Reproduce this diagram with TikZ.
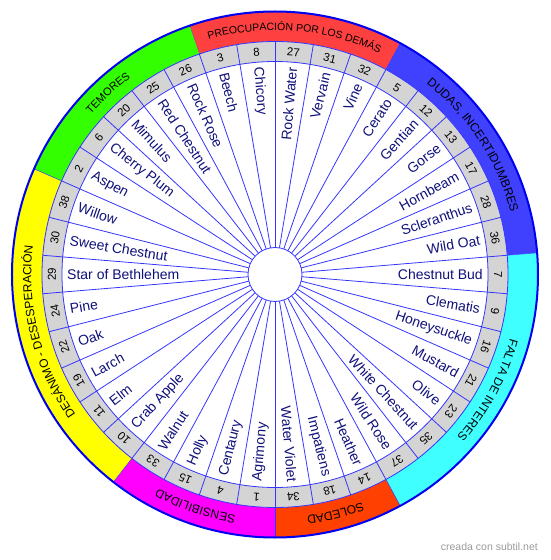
\documentclass[tikz,border=0pt]{standalone}
\usepackage{fontspec}
\setmainfont{Liberation Sans}
\usepackage{xcolor}
\usetikzlibrary{decorations.text}

\definecolor{catred}{HTML}{FF4040}
\definecolor{catblue}{HTML}{4040FF}
\definecolor{catcyan}{HTML}{40FFFF}
\definecolor{catorange}{HTML}{FF4000}
\definecolor{catmagenta}{HTML}{FF00FF}
\definecolor{catyellow}{HTML}{FFFF00}
\definecolor{catgreen}{HTML}{33FF00}
\definecolor{numgray}{HTML}{D4D4D4}
\definecolor{spokeblue}{HTML}{3535FF}
\definecolor{rimblue}{HTML}{0000F0}
\definecolor{remnavy}{HTML}{10107A}
\definecolor{creditgray}{HTML}{9A9A9A}

\tikzset{
  spoke/.style={draw=spokeblue, line width=0.8pt},
  remedy/.style={text=remnavy, font=\fontsize{14}{16}\selectfont, inner sep=0pt},
  numlabel/.style={font=\fontsize{11.5}{13}\selectfont, inner sep=0pt},
}
\newcommand{\catfont}{\fontsize{12}{13}\selectfont}
\newcommand{\catfontsmall}{\fontsize{10.5}{12}\selectfont}

\begin{document}
\begin{tikzpicture}[x=1pt, y=1pt]
  \useasboundingbox (-275,-285.5) rectangle (275,274.5);
  \pgfmathsetmacro{\st}{360/38}

  % category ring
  \foreach \a/\b/\c in {36/41/catred, 3/9/catblue, 9/16/catcyan, 16/19/catorange, 19/23/catmagenta, 23/31/catyellow, 31/36/catgreen} {
    \fill[\c] ({90-\a*\st}:233) -- ({90-\a*\st}:263)
      arc[start angle={90-\a*\st}, end angle={90-\b*\st}, radius=263]
      -- ({90-\b*\st}:233)
      arc[start angle={90-\b*\st}, end angle={90-\a*\st}, radius=233] -- cycle;
    \draw[spokeblue, line width=0.5pt] ({90-\a*\st}:233) -- ({90-\a*\st}:263);
  }

  % category names
  \path[decorate, decoration={text along path, text align=center, text={|\catfontsmall|PREOCUPACIÓN POR LOS DEMÁS}}]
    ({90-36*\st}:244.3) arc[start angle={90-36*\st}, end angle={90-41*\st}, radius=244.3];
  \path[decorate, decoration={text along path, text align=center, text={|\catfont|DUDAS, INCERTIDUMBRES}}]
    ({90-3*\st}:243.7) arc[start angle={90-3*\st}, end angle={90-9*\st}, radius=243.7];
  \path[decorate, decoration={text along path, text align=center, text={|\catfont|FALTA DE INTERES}}]
    ({90-9*\st}:243.7) arc[start angle={90-9*\st}, end angle={90-16*\st}, radius=243.7];
  \path[decorate, decoration={text along path, text align=center, text={|\catfont|SOLEDAD}}]
    ({90-16*\st}:243.7) arc[start angle={90-16*\st}, end angle={90-19*\st}, radius=243.7];
  \path[decorate, decoration={text along path, text align=center, text={|\catfont|SENSIBILIDAD}}]
    ({90-19*\st}:243.7) arc[start angle={90-19*\st}, end angle={90-23*\st}, radius=243.7];
  \path[decorate, decoration={text along path, text align=center, text={|\catfont|DESÁNIMO - DESESPERACIÓN}}]
    ({90-23*\st}:243.7) arc[start angle={90-23*\st}, end angle={90-31*\st}, radius=243.7];
  \path[decorate, decoration={text along path, text align=center, text={|\fontsize{11}{12}\selectfont|TEMORES}}]
    ({90-31*\st}:244) arc[start angle={90-31*\st}, end angle={90-36*\st}, radius=244];

  % number ring and spokes
  \fill[numgray, even odd rule] (0,0) circle (233) (0,0) circle (213);
  \draw[spoke] (0,0) circle (213);
  \draw[spoke] (0,0) circle (233);
  \foreach \k in {0,...,37} {
    \draw[spoke] ({90-\k*\st}:27) -- ({90-\k*\st}:233);
  }
  \draw[spoke, fill=white] (0,0) circle (27);
  \draw[rimblue, line width=2pt] (0,0) circle (263);

  % right half, reading outwards
  \foreach \n/\m [count=\k from 0] in {Rock Water/27, Vervain/31, Vine/32, Cerato/5, Gentian/12, Gorse/13, Hornbeam/17, Scleranthus/28, Wild Oat/36, Chestnut Bud/7, Clematis/9, Honeysuckle/16, Mustard/21, Olive/23, White Chestnut/35, Wild Rose/37, Heather/14, Impatiens/18, Water Violet/34} {
    \pgfmathsetmacro{\ang}{90-(\k+0.5)*\st}
    \node[remedy, anchor=east, rotate=\ang] (rem\m) at (\ang:208) {\n};
    \node[numlabel, rotate=\ang-90] (num\m) at (\ang:223) {\m};
  }

  % left half, reading inwards
  \foreach \n/\m [count=\k from 19] in {Agrimony/1, Centaury/4, Holly/15, Walnut/33, Crab Apple/10, Elm/11, Larch/19, Oak/22, Pine/24, Star of Bethlehem/29, Sweet Chestnut/30, Willow/38, Aspen/2, Cherry Plum/6, Mimulus/20, Red Chestnut/25, Rock Rose/26, Beech/3, Chicory/8} {
    \pgfmathsetmacro{\ang}{90-(\k+0.5)*\st}
    \node[remedy, anchor=west, rotate=\ang+180] (rem\m) at (\ang:208) {\n};
    \node[numlabel, rotate=\ang-90] (num\m) at (\ang:223) {\m};
  }

  \node[text=creditgray, font=\fontsize{10.5}{12}\selectfont, anchor=east, inner sep=0pt] (credit) at (263,-272.5) {creada con subtil.net};
\end{tikzpicture}
\end{document}
